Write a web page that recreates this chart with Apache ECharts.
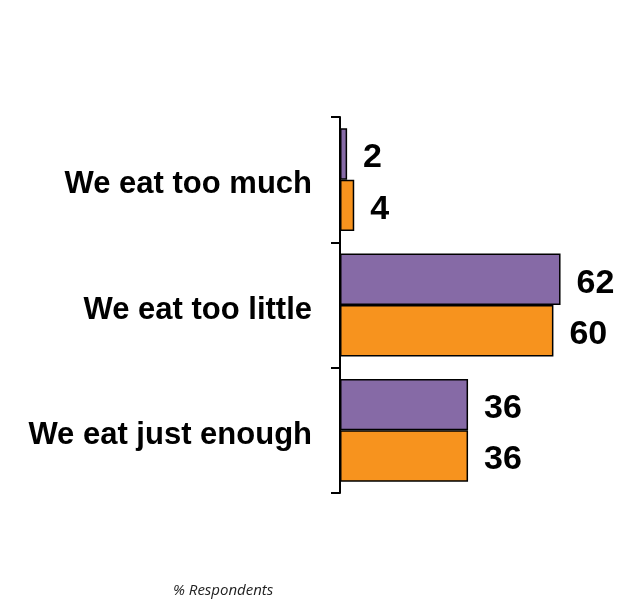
<!DOCTYPE html>
<html><head><meta charset="utf-8">
<script src="https://cdn.jsdelivr.net/npm/echarts@6/dist/echarts.min.js"></script>
<style>html,body{margin:0;padding:0;background:#fff}#c{width:623px;height:600px}</style>
</head><body><div id="c"></div>
<script>
const categories = ["We eat too much", "We eat too little", "We eat just enough"];
const seriesA = [2, 62, 36];
const seriesB = [4, 60, 36];
const axisName = "% Respondents";

const chart = echarts.init(document.getElementById('c'), null, {renderer: 'canvas'});
const labelStyle = {show: true, position: 'right', distance: 16, offset: [0, 4], color: '#000', fontFamily: 'Liberation Sans, Arial, sans-serif', fontWeight: 'bold', fontSize: 34};
chart.setOption({
  animation: false,
  backgroundColor: '#fff',
  title: {text: axisName, left: 168, top: 578, textStyle: {fontFamily: 'Open Sans, sans-serif', fontStyle: 'italic', fontWeight: 'normal', fontSize: 15, color: '#222'}},
  grid: {left: 340, right: 34, top: 117, bottom: 107, containLabel: false},
  xAxis: {type: 'value', min: 0, max: 70, show: false},
  yAxis: {type: 'category', data: categories, inverse: true,
    axisLine: {show: true, lineStyle: {color: '#000', width: 2}},
    axisTick: {show: true, length: 9, lineStyle: {color: '#000', width: 2}},
    axisLabel: {margin: 28, formatter: function (v) { return '{a|' + v + '}'; },
      rich: {a: {padding: [10, 0, 0, 0], color: '#000', fontFamily: 'Liberation Sans, Arial, sans-serif', fontWeight: 'bold', fontSize: 31}}},
    splitLine: {show: false}},
  series: [
    {type: 'bar', data: seriesA, barGap: '0%', barCategoryGap: '18%', itemStyle: {color: '#866AA6', borderColor: '#000', borderWidth: 1.5}, label: labelStyle},
    {type: 'bar', data: seriesB, barGap: '0%', barCategoryGap: '18%', itemStyle: {color: '#F7931E', borderColor: '#000', borderWidth: 1.5}, label: labelStyle}
  ]
});
</script></body></html>
